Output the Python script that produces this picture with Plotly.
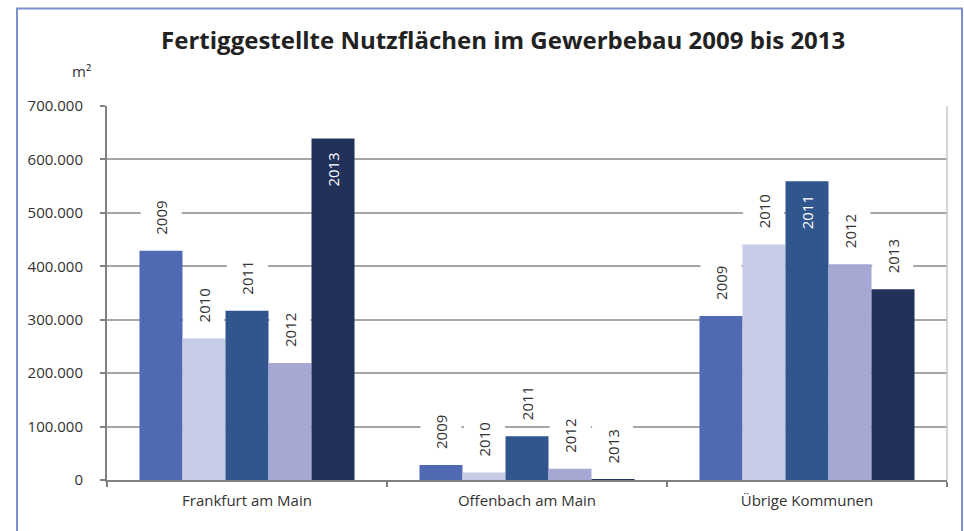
import plotly.graph_objects as go

# Fertiggestellte Nutzflächen (m²) im Gewerbebau
regions = ['Frankfurt am Main', 'Offenbach am Main', 'Übrige Kommunen']
years = ['2009', '2010', '2011', '2012', '2013']
area_2009 = [429000, 28000, 307000]
area_2010 = [265000, 14000, 441000]
area_2011 = [317000, 82000, 559000]
area_2012 = [219000, 21000, 404000]
area_2013 = [639000, 1000, 357000]
# which labels sit inside the bar (white text) instead of above it
label_inside = [[False, False, False, False, True],
                [False, False, False, False, False],
                [False, False, True, False, False]]

colors = ['#4F6AB2', '#C7CCE6', '#31558D', '#A6A8D3', '#213159']
series = [area_2009, area_2010, area_2011, area_2012, area_2013]

FONT = 'Open Sans'
BARGAP = 0.232

fig = go.Figure()
for year, vals, col in zip(years, series, colors):
    fig.add_trace(go.Bar(x=regions, y=vals, name=year,
                         marker=dict(color=col, line=dict(width=0)),
                         showlegend=False, hoverinfo='x+y+name'))

# year labels, rotated, placed over each bar
bar_w = (1 - BARGAP) / len(years)
for i, region in enumerate(regions):
    for j, year in enumerate(years):
        xpos = i + (j - (len(years) - 1) / 2) * bar_w
        val = series[j][i]
        if label_inside[i][j]:
            fig.add_annotation(x=xpos, y=val, xref='x', yref='y', text=year,
                               showarrow=False, textangle=-90,
                               yanchor='top', yshift=-12,
                               font=dict(family=FONT, size=15, color='white'))
        else:
            fig.add_annotation(x=xpos, y=val, xref='x', yref='y', text=year,
                               showarrow=False, textangle=-90,
                               yanchor='bottom', yshift=10,
                               bgcolor='white', borderpad=5, height=30,
                               font=dict(family=FONT, size=15, color='#333333'))

# unit label
fig.add_annotation(x=-0.03, y=1.094, xref='paper', yref='paper', text='m²',
                   showarrow=False, xanchor='center', yanchor='middle',
                   font=dict(family=FONT, size=15, color='#333333'))

# right plot border
fig.add_shape(type='line', xref='paper', yref='paper', x0=1, x1=1, y0=0, y1=1,
              line=dict(color='#C8C8C8', width=1.5))
# outer frame
fig.add_shape(type='rect', xref='paper', yref='paper',
              x0=-0.1071, x1=1.0179, y0=-0.2, y1=1.2607,
              line=dict(color='#7B8FCC', width=2), layer='above')

fig.update_layout(
    width=964, height=531,
    margin=dict(l=107, r=17, t=106, b=51),
    paper_bgcolor='white', plot_bgcolor='white',
    barmode='group', bargap=BARGAP, bargroupgap=0,
    separators=',.',
    font=dict(family=FONT, size=15, color='#333333'),
    title=dict(text='<b>Fertiggestellte Nutzflächen im Gewerbebau 2009 bis 2013</b>',
               x=0.522, xref='container', xanchor='center',
               y=0.923, yref='container', yanchor='middle',
               font=dict(family=FONT, size=24, color='#222222')),
    xaxis=dict(showline=True, linecolor='#808080', linewidth=2,
               ticks='outside', tickson='boundaries', ticklen=5,
               tickcolor='#808080', tickwidth=1.5, showgrid=False,
               ticklabelstandoff=6,
               tickfont=dict(family=FONT, size=15, color='#333333')),
    yaxis=dict(range=[0, 700000], dtick=100000, tickformat=',d',
               showline=True, linecolor='#808080', linewidth=2,
               ticks='outside', ticklen=5, tickcolor='#808080', tickwidth=1.5,
               showgrid=True, gridcolor='#A6A6A6', gridwidth=1.5,
               zeroline=False, ticklabelstandoff=14,
               tickfont=dict(family=FONT, size=15, color='#333333')),
)

fig.write_html('out.html', config={'displayModeBar': False},
               post_script="document.body.style.margin='0px';"
                           "document.body.style.overflow='hidden';")
